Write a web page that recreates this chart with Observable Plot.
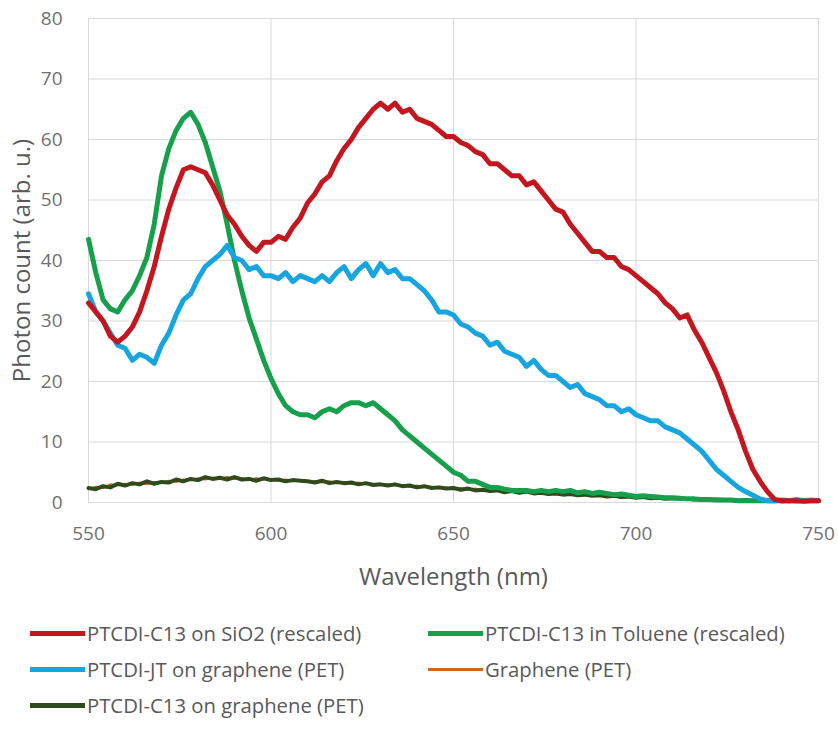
<!DOCTYPE html>
<html><head><meta charset="utf-8">
<script src="https://cdn.jsdelivr.net/npm/d3@7"></script>
<script src="https://cdn.jsdelivr.net/npm/@observablehq/plot@0.6"></script>
<style>
body{margin:0;background:#fff;font-family:"Open Sans",sans-serif;}
#wrap{position:relative;width:838px;height:737px;}
#legend{position:absolute;left:0;top:0;width:838px;height:737px;pointer-events:none;}
.item{position:absolute;display:flex;align-items:center;font-size:20.3px;color:#595959;white-space:nowrap;}
.sw{display:inline-block;width:55px;margin-right:2px;}
</style></head>
<body><div id="wrap"><div id="chart"></div><div id="legend"></div></div>
<script>
const wavelengths = d3.range(550, 751, 2);
const seriesNames = ["PTCDI-C13 on SiO2 (rescaled)","PTCDI-C13 in Toluene (rescaled)","PTCDI-JT on graphene (PET)","Graphene (PET)","PTCDI-C13 on graphene (PET)"];
const seriesColors = ["#C3161F","#16A04C","#17A5E1","#D0651E","#2F4A1D"];
const xTicks = [550,600,650,700,750];
const yTicks = [0,10,20,30,40,50,60,70,80];

const redSiO2 = [33,31.5,30,27.5,26.5,27.5,29,31.5,35,39,44,48.5,52,55,55.5,55,54.5,52.5,50,47.5,46,44,42.5,41.5,43,43,44,43.5,45.5,47,49.5,51,53,54,56.5,58.5,60,62,63.5,65,66,65,66,64.5,65,63.5,63,62.5,61.5,60.5,60.5,59.5,59,58,57.5,56,56,55,54,54,52.5,53,51.5,50,48.5,48,46,44.5,43,41.5,41.5,40.5,40.5,39,38.5,37.5,36.5,35.5,34.5,33,32,30.5,31,28.5,26.5,24,21.5,18.5,15,12,8.5,5.5,3.5,1.8,0.5,0.3,0.3,0.3,0.2,0.3,0.3];
const greenToluene = [43.5,38,33.5,32,31.5,33.5,35,37.5,40.5,46,54,58.5,61.5,63.5,64.5,62.5,59.5,55.5,51.5,46,40,35,30.5,27,23.5,20.5,18,16,15,14.5,14.5,14,15,15.5,15,16,16.5,16.5,16,16.5,15.5,14.5,13.5,12,11,10,9,8,7,6,5,4.5,3.5,3.5,3,2.5,2.5,2.2,2,2,2,1.8,2,1.8,2,1.8,2,1.6,1.8,1.5,1.7,1.5,1.3,1.4,1.2,1,1.1,1,0.9,0.8,0.8,0.7,0.6,0.6,0.5,0.5,0.4,0.4,0.4,0.3,0.3,0.3,0.3,0.3,0.3,0.3,0.3,0.3,0.3,0.3,0.3];
const blueJT = [34.5,31.5,30,28,26,25.5,23.5,24.5,24,23,26,28,31,33.5,34.5,37,39,40,41,42.5,40.5,40,38.5,39,37.5,37.5,37,38,36.5,37.5,37,36.5,37.5,36.5,38,39,37,38.5,39.5,37.5,39.5,38,38.5,37,37,36,35,33.5,31.5,31.5,31,29.5,29,28,27.5,26,26.5,25,24.5,24,22.5,23.5,22,21,21,20,19,19.5,18,17.5,17,16,16,15,15.5,14.5,14,13.5,13.5,12.5,12,11.5,10.5,9.5,8.5,7,5.5,4.5,3.5,2.5,1.8,1.2,0.6,0.3,0.3,0.4,0.3,0.5,0.3,0.4,0.3];
const orangeGraphene = [2.2,2.6,2.4,3,2.8,3.1,2.9,3.3,3,3.4,3.2,3.6,3.4,3.8,3.7,4,3.8,4.1,3.9,4.2,3.9,4,3.7,4,3.8,3.9,3.6,3.8,3.5,3.7,3.4,3.5,3.3,3.5,3.2,3.4,3.1,3.3,3,3.1,2.9,3,2.8,2.9,2.6,2.8,2.5,2.6,2.3,2.5,2.2,2.4,2.1,2.3,2,2.2,1.9,2,1.8,1.9,1.7,1.8,1.5,1.7,1.4,1.5,1.3,1.4,1.2,1.3,1.1,1.2,1,1.1,0.9,1,0.8,0.9,0.7,0.8,0.6,0.7,0.6,0.6,0.5,0.6,0.4,0.5,0.4,0.4,0.3,0.4,0.3,0.3,0.3,0.3,0.2,0.3,0.2,0.3,0.3];
const darkGraphene = [2.4,2.2,2.7,2.5,3.1,2.8,3.2,3,3.5,3.1,3.4,3.3,3.8,3.5,3.9,3.7,4.2,3.9,4.1,3.8,4.2,3.8,3.9,3.6,4,3.7,3.8,3.5,3.7,3.6,3.5,3.3,3.6,3.2,3.4,3.2,3.3,3,3.2,2.9,3,2.8,3,2.7,2.8,2.5,2.7,2.4,2.5,2.3,2.4,2.1,2.3,2,2.1,1.9,2,1.7,1.9,1.6,1.8,1.5,1.6,1.4,1.5,1.3,1.4,1.2,1.3,1.1,1.2,1,1.1,0.9,1,0.8,0.9,0.7,0.8,0.6,0.7,0.6,0.6,0.5,0.5,0.4,0.5,0.4,0.4,0.3,0.4,0.3,0.3,0.3,0.3,0.2,0.3,0.2,0.3,0.3,0.3];

function rows(values, name){ return wavelengths.map((w,i)=>({w, v: values[i], name})); }
const drawOrder = [
  {vals: orangeGraphene, idx:3, sw:2},
  {vals: darkGraphene, idx:4, sw:4},
  {vals: greenToluene, idx:1, sw:5},
  {vals: blueJT, idx:2, sw:5},
  {vals: redSiO2, idx:0, sw:5}
];

const marks = [
  Plot.gridX(xTicks, {stroke:"#d9d9d9", strokeOpacity:1, strokeWidth:1}),
  Plot.gridY(yTicks, {stroke:"#d9d9d9", strokeOpacity:1, strokeWidth:1}),
  Plot.text(xTicks, {x:d=>d, frameAnchor:"bottom", lineAnchor:"middle", textAnchor:"middle", dy:31, fontSize:19, fill:"#707070", text:d=>String(d)}),
  Plot.text(yTicks, {y:d=>d, frameAnchor:"left", lineAnchor:"middle", textAnchor:"end", dx:-26, fontSize:19, fill:"#707070", text:d=>String(d)}),
];
for (const s of drawOrder) {
  marks.push(Plot.line(rows(s.vals, seriesNames[s.idx]), {x:"w", y:"v", stroke: seriesColors[s.idx], strokeWidth: s.sw, strokeLinejoin:"round", curve:"linear"}));
}
marks.push(Plot.text(["Wavelength (nm)"], {frameAnchor:"bottom", lineAnchor:"middle", textAnchor:"middle", dy:75, fontSize:24, fill:"#595959", text:d=>d}));
marks.push(Plot.text(["Photon count (arb. u.)"], {frameAnchor:"left", lineAnchor:"middle", textAnchor:"middle", dx:-66, rotate:-90, fontSize:24, fill:"#595959", text:d=>d}));

const chart = Plot.plot({
  width:838, height:600,
  marginLeft:88, marginRight:20, marginTop:18, marginBottom:98,
  style:{fontFamily:"'Open Sans', sans-serif", background:"#fff"},
  x:{domain:[550,750], axis:null},
  y:{domain:[0,80], axis:null},
  marks
});
document.getElementById("chart").appendChild(chart);

const legendPos = [
  {idx:0, x:30, y:633},{idx:1, x:428, y:633},
  {idx:2, x:30, y:669},{idx:3, x:428, y:669},
  {idx:4, x:30, y:705}
];
const lg = document.getElementById("legend");
for (const p of legendPos) {
  const d = document.createElement("div");
  d.className = "item";
  d.style.left = p.x + "px"; d.style.top = (p.y - 14) + "px"; d.style.height="28px";
  const sw = document.createElement("span");
  sw.className = "sw";
  sw.style.height = (p.idx===3 ? 3 : 5) + "px";
  sw.style.background = seriesColors[p.idx];
  d.appendChild(sw);
  d.appendChild(document.createTextNode(seriesNames[p.idx]));
  lg.appendChild(d);
}
</script></body></html>
